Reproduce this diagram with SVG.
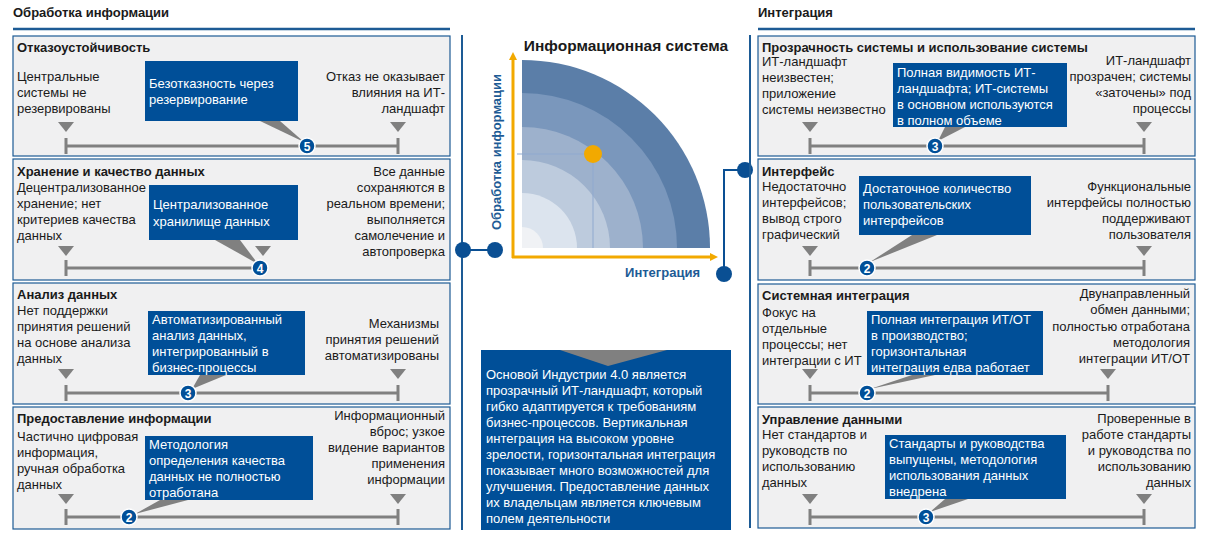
<svg xmlns="http://www.w3.org/2000/svg" width="1217" height="540" viewBox="0 0 1217 540">
<style>
text{font-family:"Liberation Sans",Arial,sans-serif;font-size:13px;fill:#1a1a1a}
.h{font-weight:bold;font-size:13px}
.r{text-anchor:end}
.w{fill:#fff}
.panel{fill:#f0f0f1;stroke:#1d5b95;stroke-width:1.2}
.box{fill:#004f98}
.sc{stroke:#808080;stroke-width:3;fill:none}
.tri{fill:#808080}
.num{fill:#004f98;stroke:#fff;stroke-width:1.5}
.nt{fill:#fff;font-weight:bold;font-size:12px;text-anchor:middle}
.ptr{fill:#808080}
.con{stroke:#0a4f93;stroke-width:2;fill:none}
.dot{fill:#0a4f93}
</style>
<defs>
<marker id="ar" markerWidth="8" markerHeight="8" refX="4" refY="4" orient="auto" markerUnits="userSpaceOnUse">
<path d="M0,0 L8,4 L0,8 z" fill="#f2a900"/>
</marker>
</defs>
<rect width="1217" height="540" fill="#fff"/>

<g id="left-header">
<text x="13" y="17" class="h">Обработка информации</text>
<line x1="13" y1="29" x2="450" y2="29" stroke="#1d5b95" stroke-width="2.5"/>
<line x1="462" y1="35" x2="462" y2="530" stroke="#1d5b95" stroke-width="2"/>
</g>

<g id="l1">
<rect class="panel" x="13" y="36" width="437" height="120"/>
<text x="17" y="52" class="h">Отказоустойчивость</text>
<text x="17" y="81">Центральные</text><text x="17" y="97">системы не</text><text x="17" y="113">резервированы</text>
<text x="445" y="81" class="r">Отказ не оказывает</text><text x="445" y="97" class="r">влияния на ИТ-</text><text x="445" y="113" class="r">ландшафт</text>
<polygon class="ptr" points="260,121 280,121 304,142"/>
<rect class="box" x="145" y="61" width="153" height="60"/>
<text x="149" y="88" class="w">Безотказность через</text><text x="149" y="104" class="w">резервирование</text>
<polygon class="tri" points="58,122 74,122 66,132"/><polygon class="tri" points="390,122 406,122 398,132"/>
<path class="sc" d="M66,138V154M66,146H398M398,138V154"/>
<circle class="num" cx="307" cy="146" r="8"/><text x="307" y="150.5" class="nt">5</text>
</g>

<g id="l2">
<rect class="panel" x="13" y="159" width="437" height="121"/>
<text x="17" y="176" class="h">Хранение и качество данных</text>
<text x="17" y="192">Децентрализованное</text><text x="17" y="208">хранение; нет</text><text x="17" y="224">критериев качества</text><text x="17" y="240">данных</text>
<text x="445" y="176" class="r">Все данные</text><text x="445" y="192" class="r">сохраняются в</text><text x="445" y="208" class="r">реальном времени;</text><text x="445" y="224" class="r">выполняется</text><text x="445" y="240" class="r">самолечение и</text><text x="445" y="256" class="r">автопроверка</text>
<polygon class="ptr" points="215,240 240,240 258,264"/>
<rect class="box" x="149" y="185" width="149" height="55"/>
<text x="153" y="209" class="w">Централизованное</text><text x="153" y="226" class="w">хранилище данных</text>
<polygon class="tri" points="58,246 74,246 66,256"/><polygon class="tri" points="255,246 271,246 263,256"/>
<path class="sc" d="M66,260V276M66,268H260"/>
<circle class="num" cx="260" cy="268" r="8"/><text x="260" y="272.5" class="nt">4</text>
</g>

<g id="l3">
<rect class="panel" x="13" y="283" width="437" height="121"/>
<text x="17" y="299" class="h">Анализ данных</text>
<text x="17" y="315">Нет поддержки</text><text x="17" y="331">принятия решений</text><text x="17" y="347">на основе анализа</text><text x="17" y="363">данных</text>
<text x="439" y="328" class="r">Механизмы</text><text x="439" y="344" class="r">принятия решений</text><text x="439" y="360" class="r">автоматизированы</text>
<polygon class="ptr" points="200,375 226,375 192,389"/>
<rect class="box" x="148" y="311" width="157" height="64"/>
<text x="152" y="324" class="w">Автоматизированный</text><text x="152" y="340" class="w">анализ данных,</text><text x="152" y="356" class="w">интегрированный в</text><text x="152" y="372" class="w">бизнес-процессы</text>
<polygon class="tri" points="58,369 74,369 66,379"/><polygon class="tri" points="390,369 406,369 398,379"/>
<path class="sc" d="M66,385V401M66,393H398M398,385V401"/>
<circle class="num" cx="188" cy="393" r="8"/><text x="188" y="397.5" class="nt">3</text>
</g>

<g id="l4">
<rect class="panel" x="13" y="407" width="437" height="122"/>
<text x="17" y="423" class="h">Предоставление информации</text>
<text x="17" y="441">Частично цифровая</text><text x="17" y="457">информация,</text><text x="17" y="473">ручная обработка</text><text x="17" y="489">данных</text>
<text x="445" y="420" class="r">Информационный</text><text x="445" y="436" class="r">вброс; узкое</text><text x="445" y="452" class="r">видение вариантов</text><text x="445" y="468" class="r">применения</text><text x="445" y="484" class="r">информации</text>
<polygon class="ptr" points="160,500 188,500 135,514"/>
<rect class="box" x="145" y="436" width="168" height="64"/>
<text x="149" y="449" class="w">Методология</text><text x="149" y="465" class="w">определения качества</text><text x="149" y="481" class="w">данных не полностью</text><text x="149" y="497" class="w">отработана</text>
<polygon class="tri" points="58,494 74,494 66,504"/><polygon class="tri" points="390,494 406,494 398,504"/>
<path class="sc" d="M66,509V525M66,517H398M398,509V525"/>
<circle class="num" cx="129" cy="517" r="8"/><text x="129" y="521.5" class="nt">2</text>
</g>

<g id="chart">
<text x="626" y="51" class="h" style="font-size:15.5px;text-anchor:middle">Информационная система</text>
<path d="M522,248V60A188,188 0 0 1 710,248Z" fill="#5b7ea8"/>
<path d="M522,248V93A155,155 0 0 1 677,248Z" fill="#7a97bc"/>
<path d="M522,248V127A121,121 0 0 1 643,248Z" fill="#9db1cc"/>
<path d="M522,248V160A88,88 0 0 1 610,248Z" fill="#bdcbdd"/>
<path d="M522,248V193A55,55 0 0 1 577,248Z" fill="#dce4ee"/>
<path d="M522,248V227A21,21 0 0 1 543,248Z" fill="#f0f2f5"/>
<path d="M517,154H593V248" stroke="#8fa9cf" stroke-width="1" fill="none"/>
<circle cx="593" cy="154" r="9" fill="#f2a900"/>
<line x1="513" y1="258" x2="513" y2="56" stroke="#f2a900" stroke-width="3" marker-end="url(#ar)"/>
<line x1="512" y1="257" x2="714" y2="257" stroke="#f2a900" stroke-width="3" marker-end="url(#ar)"/>
<text transform="translate(501,152) rotate(-90)" class="h" style="fill:#1d5b95;text-anchor:middle">Обработка информации</text>
<text x="700" y="277" class="h r" style="fill:#1d5b95">Интеграция</text>
</g>

<g id="summary">
<rect class="box" x="481" y="350" width="250" height="180"/>
<polygon points="560,350 667,350 608,366" fill="#808080"/>
<text x="486" y="379" class="w">Основой Индустрии 4.0 является</text>
<text x="486" y="395" class="w">прозрачный ИТ-ландшафт, который</text>
<text x="486" y="411" class="w">гибко адаптируется к требованиям</text>
<text x="486" y="427" class="w">бизнес-процессов. Вертикальная</text>
<text x="486" y="443" class="w">интеграция на высоком уровне</text>
<text x="486" y="459" class="w">зрелости, горизонтальная интеграция</text>
<text x="486" y="475" class="w">показывает много возможностей для</text>
<text x="486" y="491" class="w">улучшения. Предоставление данных</text>
<text x="486" y="507" class="w">их владельцам является ключевым</text>
<text x="486" y="523" class="w">полем деятельности</text>
</g>

<g id="connectors">
<path class="con" d="M463,250H495"/>
<circle class="dot" cx="463" cy="250" r="8"/><circle class="dot" cx="495" cy="250" r="8"/>
<path class="con" d="M745,170H724V274"/>
<circle class="dot" cx="745" cy="170" r="8"/><circle class="dot" cx="724" cy="274" r="8"/>
</g>

<g id="right-header">
<text x="758" y="17" class="h">Интеграция</text>
<line x1="758" y1="29" x2="1195" y2="29" stroke="#1d5b95" stroke-width="2.5"/>
<line x1="750" y1="35" x2="750" y2="528" stroke="#1d5b95" stroke-width="2"/>
</g>

<g id="r1">
<rect class="panel" x="758" y="36" width="437" height="120"/>
<text x="762" y="52" class="h">Прозрачность системы и использование системы</text>
<text x="762" y="66">ИТ-ландшафт</text><text x="762" y="82">неизвестен;</text><text x="762" y="98">приложение</text><text x="762" y="114">системы неизвестно</text>
<text x="1191" y="65" class="r">ИТ-ландшафт</text><text x="1191" y="81" class="r">прозрачен; системы</text><text x="1191" y="97" class="r">«заточены» под</text><text x="1191" y="113" class="r">процессы</text>
<polygon class="ptr" points="945,127 965,127 938,141"/>
<rect class="box" x="893" y="63" width="174" height="64"/>
<text x="897" y="77" class="w">Полная видимость ИТ-</text><text x="897" y="93" class="w">ландшафта; ИТ-системы</text><text x="897" y="109" class="w">в основном используются</text><text x="897" y="125" class="w">в полном объеме</text>
<polygon class="tri" points="802,122 818,122 810,132"/><polygon class="tri" points="1136,122 1152,122 1144,132"/>
<path class="sc" d="M810,138V154M810,146H1144M1144,138V154"/>
<circle class="num" cx="935" cy="146" r="8"/><text x="935" y="150.5" class="nt">3</text>
</g>

<g id="r2">
<rect class="panel" x="758" y="159" width="437" height="121"/>
<text x="762" y="176" class="h">Интерфейс</text>
<text x="762" y="191">Недостаточно</text><text x="762" y="207">интерфейсов;</text><text x="762" y="223">вывод строго</text><text x="762" y="239">графический</text>
<text x="1191" y="191" class="r">Функциональные</text><text x="1191" y="207" class="r">интерфейсы полностью</text><text x="1191" y="223" class="r">поддерживают</text><text x="1191" y="239" class="r">пользователя</text>
<polygon class="ptr" points="912,235 937,235 870,262"/>
<rect class="box" x="859" y="176" width="172" height="59"/>
<text x="863" y="193" class="w">Достаточное количество</text><text x="863" y="209" class="w">пользовательских</text><text x="863" y="225" class="w">интерфейсов</text>
<polygon class="tri" points="802,246 818,246 810,256"/><polygon class="tri" points="1136,246 1152,246 1144,256"/>
<path class="sc" d="M810,260V276M810,268H1144M1144,260V276"/>
<circle class="num" cx="867" cy="268" r="8"/><text x="867" y="272.5" class="nt">2</text>
</g>

<g id="r3">
<rect class="panel" x="758" y="284" width="437" height="120"/>
<text x="762" y="300" class="h">Системная интеграция</text>
<text x="762" y="317">Фокус на</text><text x="762" y="333">отдельные</text><text x="762" y="349">процессы; нет</text><text x="762" y="365">интеграции с ИТ</text>
<text x="1190" y="298" class="r">Двунаправленный</text><text x="1190" y="314" class="r">обмен данными;</text><text x="1190" y="331" class="r">полностью отработана</text><text x="1190" y="347" class="r">методология</text><text x="1190" y="363" class="r">интеграции ИТ/ОТ</text>
<polygon class="ptr" points="912,375 935,375 870,389"/>
<rect class="box" x="867" y="311" width="176" height="64"/>
<text x="871" y="324" class="w">Полная интеграция ИТ/ОТ</text><text x="871" y="340" class="w">в производство;</text><text x="871" y="356" class="w">горизонтальная</text><text x="871" y="372" class="w">интеграция едва работает</text>
<polygon class="tri" points="802,369 818,369 810,379"/><polygon class="tri" points="1100,369 1116,369 1108,379"/>
<path class="sc" d="M810,385V401M810,393H1108M1108,385V401"/>
<circle class="num" cx="867" cy="393" r="8"/><text x="867" y="397.5" class="nt">2</text>
</g>

<g id="r4">
<rect class="panel" x="758" y="407" width="437" height="121"/>
<text x="762" y="424" class="h">Управление данными</text>
<text x="762" y="439">Нет стандартов и</text><text x="762" y="455">руководств по</text><text x="762" y="471">использованию</text><text x="762" y="487">данных</text>
<text x="1191" y="423" class="r">Проверенные в</text><text x="1191" y="439" class="r">работе стандарты</text><text x="1191" y="455" class="r">и руководства по</text><text x="1191" y="471" class="r">использованию</text><text x="1191" y="487" class="r">данных</text>
<polygon class="ptr" points="945,499 968,499 930,512"/>
<rect class="box" x="885" y="435" width="181" height="64"/>
<text x="889" y="448" class="w">Стандарты и руководства</text><text x="889" y="464" class="w">выпущены, методология</text><text x="889" y="480" class="w">использования данных</text><text x="889" y="496" class="w">внедрена</text>
<polygon class="tri" points="802,494 818,494 810,504"/><polygon class="tri" points="1136,494 1152,494 1144,504"/>
<path class="sc" d="M810,509V525M810,517H1144M1144,509V525"/>
<circle class="num" cx="926" cy="517" r="8"/><text x="926" y="521.5" class="nt">3</text>
</g>
</svg>
